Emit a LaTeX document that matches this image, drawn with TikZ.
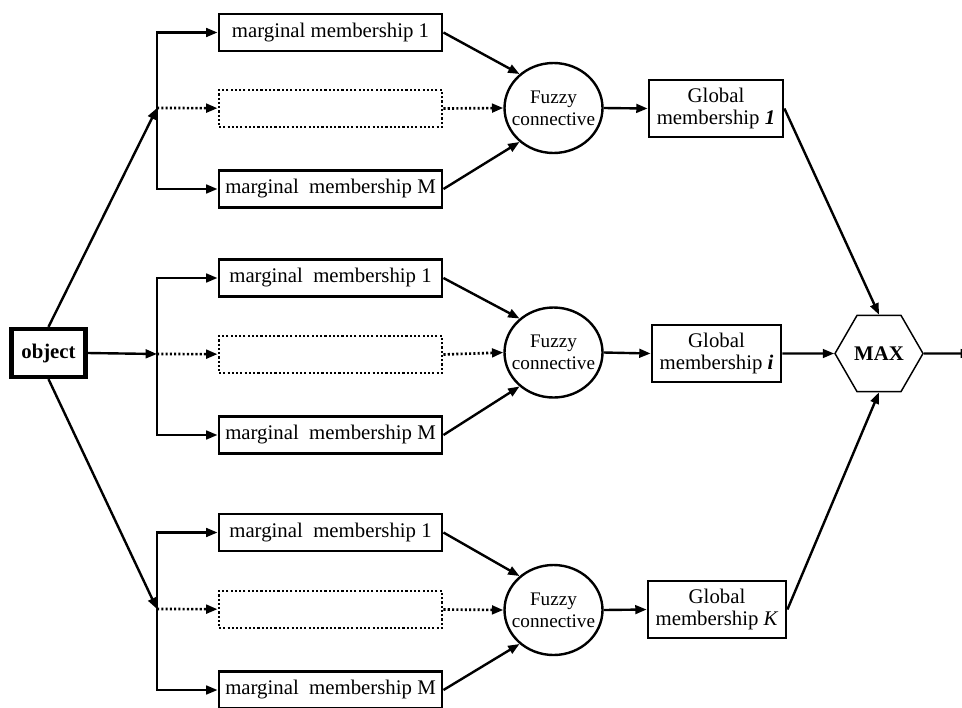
\documentclass[tikz,border=0pt]{standalone}
\usepackage{fontspec}
\setmainfont{Liberation Serif}
\usetikzlibrary{arrows.meta,shapes.geometric}
\begin{document}
\begin{tikzpicture}[x=0.75pt,y=-0.75pt,
  font=\fontsize{15.6}{16.5}\selectfont,
  >={Triangle[length=8.5pt,width=6.5pt]},
  conn/.style={line width=1.8pt,->},
  dotconn/.style={line width=2pt,->,dash pattern=on 1.6pt off 1.6pt},
  mbox/.style={draw,line width=2.2pt,minimum width={223*0.75pt},minimum height={37*0.75pt},inner sep=0pt},
  dbox/.style={mbox,dash pattern=on 1.6pt off 1.6pt},
  objbox/.style={draw,line width=3.2pt,minimum width={74*0.75pt},minimum height={48*0.75pt},inner sep=0pt,font=\fontsize{15.6}{16.5}\selectfont\bfseries},
  fuzzy/.style={draw,ellipse,line width=1.8pt,minimum width={98*0.75pt},minimum height={90*0.75pt},inner sep=-12pt,align=center,font=\fontsize{14.4}{16.5}\selectfont},
  gbox/.style={draw,line width=2.1pt,minimum height={57*0.75pt},inner sep=0pt,align=center},
  maxhex/.style={draw,line width=1.1pt,regular polygon,regular polygon sides=6,minimum size={88*0.75pt},inner sep=0pt,font=\fontsize{15.6}{16.5}\selectfont\bfseries}
]
\useasboundingbox (0,0) rectangle (962,707);
\clip (0,0) rectangle (962,707);

% object
\node[objbox] (obj) at (48.5,353) {object};

% junctions
\coordinate (j1) at (157,108);
\coordinate (j2) at (157,354);
\coordinate (j3) at (157,609);

% group 1
\node[mbox] (b11) at (330.5,32.5) {marginal membership 1};
\node[dbox] (b1d) at (330.5,108.5) {};
\node[mbox] (b1M) at (330.5,189) {marginal\ \ membership M};
\node[fuzzy] (c1) at (553.5,108) {Fuzzy\\connective};
\node[gbox,minimum width={134*0.75pt}] (g1) at (716,108.5) {Global\\membership \textbf{\textit{1}}};

% group 2
\node[mbox] (b21) at (330.5,278) {marginal\ \ membership 1};
\node[dbox] (b2d) at (330.5,354.5) {};
\node[mbox] (b2M) at (330.5,435) {marginal\ \ membership M};
\node[fuzzy] (c2) at (553.5,352.5) {Fuzzy\\connective};
\node[gbox,minimum width={129*0.75pt}] (g2) at (716.5,353.5) {Global\\membership \textbf{\textit{i}}};

% group 3
\node[mbox] (b31) at (330.5,532.5) {marginal\ \ membership 1};
\node[dbox] (b3d) at (330.5,609.5) {};
\node[mbox] (b3M) at (330.5,690) {marginal\ \ membership M};
\node[fuzzy] (c3) at (553.5,610) {Fuzzy\\connective};
\node[gbox,minimum width={138*0.75pt}] (g3) at (717,609.5) {Global\\membership \textit{K}};

% MAX
\node[maxhex] (max) at (879,353.5) {MAX};
\coordinate (out) at (972,353.5);

% object connectors
\draw[conn] (obj.north) -- (j1);
\draw[conn] (obj.east) -- (j2);
\draw[conn] (obj.south) -- (j3);

% fan-outs
\foreach \g in {1,2,3}{
  \draw[conn] (j\g) |- (b\g1);
  \draw[conn] (j\g) |- (b\g M);
  \draw[dotconn] (j\g) -- (b\g d);
  \draw[conn] (b\g1.east) -- (c\g.135);
  \draw[conn] (b\g M.east) -- (c\g.225);
  \draw[dotconn] (b\g d.east) -- (c\g.west);
  \draw[conn] (c\g.east) -- (g\g.west);
}

% to MAX
\draw[conn] (g1.east) -- (max.north);
\draw[conn] (g2.east) -- (max.west);
\draw[conn] (g3.east) -- (max.south);
\draw[conn] (max.east) -- (out);
\end{tikzpicture}
\end{document}
